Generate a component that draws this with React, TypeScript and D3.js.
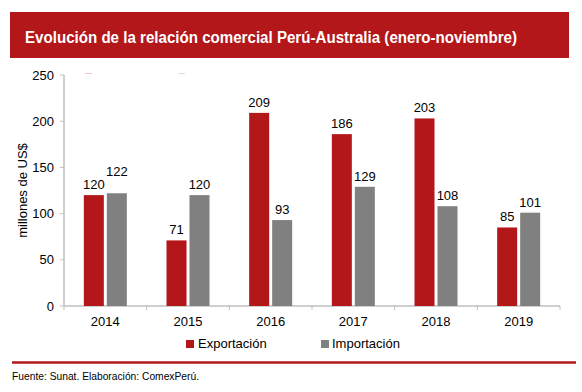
import React from 'react';
import * as d3 from 'd3';

const years = ['2014', '2015', '2016', '2017', '2018', '2019'];
const exportacion = [120, 71, 209, 186, 203, 85];
const importacion = [122, 120, 93, 129, 108, 101];
const yTicks = [0, 50, 100, 150, 200, 250];

const RED = '#B3171A';
const GRAY = '#808080';
const AXIS = '#BFBFBF';
const FONT = 'Liberation Sans, Arial, sans-serif';

const App = () => {
  const W = 582;
  const H = 392;
  const left = 64;
  const right = 560;
  const top = 75;
  const bottom = 306;

  const x = d3.scaleBand().domain(years).range([left, right]).paddingInner(0).paddingOuter(0);
  const y = d3.scaleLinear().domain([0, 250]).range([bottom, top]);
  const barW = 20;
  const gap = 3;

  return (
    <svg width={W} height={H} style={{ position: 'absolute', left: 0, top: 0 }} fontFamily={FONT}>
      <rect x={0} y={0} width={W} height={H} fill="#fff" />
      {/* title bar */}
      <rect x={10} y={12} width={559} height={46} fill={RED} />
      <text x={25} y={43} fill="#fff" fontSize={16} fontWeight="bold" textLength={492} lengthAdjust="spacingAndGlyphs">
        Evolución de la relación comercial Perú-Australia (enero-noviembre)
      </text>

      {/* faint artifacts */}
      <line x1={85} x2={92} y1={73.5} y2={73.5} stroke="#F2C9CA" strokeWidth={1} />
      <line x1={178} x2={185} y1={73.5} y2={73.5} stroke="#DDDDDD" strokeWidth={1} />

      {/* y axis */}
      <line x1={left} x2={left} y1={top} y2={bottom} stroke={AXIS} strokeWidth={1.5} />
      {yTicks.map(t => (
        <g key={t}>
          <line x1={left - 4} x2={left} y1={y(t)} y2={y(t)} stroke={AXIS} strokeWidth={1} />
          <text x={54} y={y(t) + 4.5} textAnchor="end" fontSize={13} fill="#000">{t}</text>
        </g>
      ))}
      <text transform={`translate(27,${(top + bottom) / 2}) rotate(-90)`} textAnchor="middle" fontSize={13} fill="#000">
        millones de US$
      </text>

      {/* x axis */}
      <line x1={left} x2={right} y1={bottom} y2={bottom} stroke={AXIS} strokeWidth={1.5} />
      {years.map(yr => (
        <line key={'t' + yr} x1={x(yr)!} x2={x(yr)!} y1={bottom} y2={bottom + 4} stroke={AXIS} strokeWidth={1} />
      ))}
      <line x1={right} x2={right} y1={bottom} y2={bottom + 4} stroke={AXIS} strokeWidth={1} />
      {years.map(yr => (
        <text key={'l' + yr} x={x(yr)! + x.bandwidth() / 2} y={bottom + 20} textAnchor="middle" fontSize={13} fill="#000">{yr}</text>
      ))}

      {/* bars */}
      {years.map((yr, i) => {
        const c = x(yr)! + x.bandwidth() / 2;
        const ex = c - gap / 2 - barW;
        const ix = c + gap / 2;
        // labels collide when the two bars are almost equal: lift the second one
        const lift = Math.abs(exportacion[i] - importacion[i]) < 10 ? 11 : 0;
        return (
          <g key={'b' + yr}>
            <rect x={ex} y={y(exportacion[i])} width={barW} height={bottom - y(exportacion[i])} fill={RED} />
            <rect x={ix} y={y(importacion[i])} width={barW} height={bottom - y(importacion[i])} fill={GRAY} />
            <text x={ex + barW / 2} y={y(exportacion[i]) - 6} textAnchor="middle" fontSize={13} fill="#000">{exportacion[i]}</text>
            <text x={ix + barW / 2} y={y(importacion[i]) - 6 - lift} textAnchor="middle" fontSize={13} fill="#000">{importacion[i]}</text>
          </g>
        );
      })}

      {/* legend */}
      <rect x={186} y={340} width={8} height={8} fill={RED} />
      <text x={198} y={348} fontSize={13} fill="#000">Exportación</text>
      <rect x={321} y={340} width={8} height={8} fill={GRAY} />
      <text x={332} y={348} fontSize={13} fill="#000">Importación</text>

      {/* footer */}
      <line x1={12} x2={576} y1={362.5} y2={362.5} stroke={RED} strokeWidth={2.5} />
      <text x={12} y={380} fontSize={10.5} fill="#000" textLength={187} lengthAdjust="spacingAndGlyphs">Fuente: Sunat. Elaboración: ComexPerú.</text>
    </svg>
  );
};

export default App;
